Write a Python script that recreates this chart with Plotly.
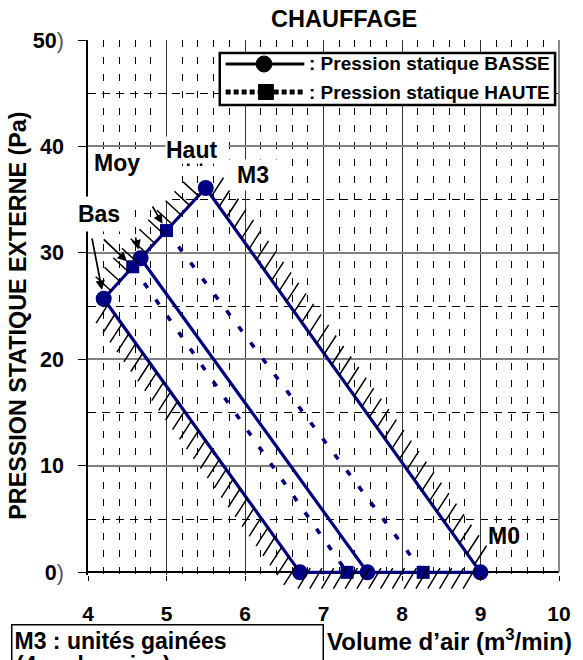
import math
import plotly.graph_objects as go

# ---------------- data ----------------
speed_labels = ["Bas", "Moy", "Haut"]
basse_top_x = [4.2, 4.67, 5.5]      # Pression statique BASSE : points hauts
basse_top_y = [25.7, 29.5, 36.1]
basse_zero_x = [6.7, 7.56, 9.0]     # débit à 0 Pa
haute_top_x = [4.57, 5.0]           # Pression statique HAUTE
haute_top_y = [28.7, 32.1]
haute_zero_x = [7.3, 8.27]

x_tick_vals = [4, 5, 6, 7, 8, 9, 10]
y_tick_vals = [0, 10, 20, 30, 40, 50]
thin = "<span style='font-weight:normal;color:#555'>)</span>"
y_tick_text = ["0" + thin, "10", "20", "30", "40", "50" + thin]

# ---------------- style ----------------
NAVY = "#000080"
FONT = "Liberation Sans, Arial, sans-serif"
W_FIG, H_FIG = 583, 660
ML, MR, MT, MB = 88, 16, 40, 85
PW = W_FIG - ML - MR
PH = H_FIG - MT - MB
X_RANGE = [4, 10]
Y_RANGE = [-0.25, 50]


def px_x(x):
    return ML + (x - X_RANGE[0]) / (X_RANGE[1] - X_RANGE[0]) * PW


def px_y(y):
    return MT + (Y_RANGE[1] - y) / (Y_RANGE[1] - Y_RANGE[0]) * PH


def pap_x(px):
    return (px - ML) / PW


def pap_y(py):
    return (MT + PH - py) / PH


def bfont(size, color="black"):
    return dict(family=FONT, size=size, color=color, weight="bold")


LW = 3.2
fig = go.Figure()

# descending BASSE lines
xs, ys = [], []
for xt, yt, xz in zip(basse_top_x, basse_top_y, basse_zero_x):
    xs += [xt, xz, None]
    ys += [yt, 0, None]
fig.add_trace(go.Scatter(x=xs, y=ys, mode="lines", line=dict(color=NAVY, width=LW),
                         showlegend=False, hoverinfo="skip"))

# descending HAUTE dotted lines
xs, ys = [], []
for xt, yt, xz in zip(haute_top_x, haute_top_y, haute_zero_x):
    xs += [xt, xz, None]
    ys += [yt, 0, None]
fig.add_trace(go.Scatter(x=xs, y=ys, mode="lines",
                         line=dict(color=NAVY, width=3.6, dash="6px,14px"),
                         showlegend=False, hoverinfo="skip"))

# bottom line along 0 Pa
fig.add_trace(go.Scatter(x=[min(basse_zero_x), max(basse_zero_x)], y=[0, 0], mode="lines",
                         line=dict(color=NAVY, width=LW), showlegend=False, hoverinfo="skip"))

# BASSE upper curve
fig.add_trace(go.Scatter(x=basse_top_x, y=basse_top_y, mode="lines+markers",
                         name="Pression statique BASSE", text=speed_labels,
                         line=dict(color=NAVY, width=LW),
                         marker=dict(symbol="circle", size=16, color=NAVY),
                         cliponaxis=False, showlegend=False))
fig.add_trace(go.Scatter(x=basse_zero_x, y=[0] * len(basse_zero_x), mode="markers",
                         marker=dict(symbol="circle", size=16, color=NAVY),
                         cliponaxis=False, showlegend=False))
# HAUTE markers
fig.add_trace(go.Scatter(x=haute_top_x, y=haute_top_y, mode="markers",
                         name="Pression statique HAUTE",
                         marker=dict(symbol="square", size=13, color=NAVY),
                         cliponaxis=False, showlegend=False))
fig.add_trace(go.Scatter(x=haute_zero_x, y=[0] * len(haute_zero_x), mode="markers",
                         marker=dict(symbol="square", size=13, color=NAVY),
                         cliponaxis=False, showlegend=False))

# ---------------- hatching of the operating envelope ----------------
def hatch(p0, p1, direction, length, spacing, back):
    x0, y0 = px_x(p0[0]), px_y(p0[1])
    x1, y1 = px_x(p1[0]), px_y(p1[1])
    seg = math.hypot(x1 - x0, y1 - y0)
    n = max(1, int(seg // spacing))
    off = (seg - (n - 1) * spacing) / 2
    dn = math.hypot(*direction)
    dx, dy = direction[0] / dn, direction[1] / dn
    parts = []
    for k in range(n):
        t = (off + k * spacing) / seg
        cx, cy = x0 + t * (x1 - x0), y0 + t * (y1 - y0)
        sx, sy = cx - dx * back, cy - dy * back
        ex, ey = cx + dx * length, cy + dy * length
        parts.append(f"M{pap_x(sx):.5f},{pap_y(sy):.5f}L{pap_x(ex):.5f},{pap_y(ey):.5f}")
    return "".join(parts)


p_bas = (basse_top_x[0], basse_top_y[0])
p_haut = (basse_top_x[-1], basse_top_y[-1])
p_z0 = (basse_zero_x[0], 0)
p_z1 = (basse_zero_x[-1], 0)
hpath = ""
hpath += hatch(p_bas, p_z0, (-0.55, 0.84), 22, 12, 1)
hpath += hatch(p_z0, p_z1, (-0.52, 0.86), 19, 12, 5)
hpath += hatch(p_z1, p_haut, (0.55, -0.84), 22, 13, 1)
hpath += hatch(p_haut, p_bas, (-0.74, -0.67), 21, 13, 1)
fig.add_shape(type="path", path=hpath, xref="paper", yref="paper",
              line=dict(color="black", width=1.5), layer="above")

# right border
fig.add_shape(type="line", xref="paper", yref="paper", x0=1, x1=1, y0=pap_y(px_y(0)), y1=1,
              line=dict(color="#888888", width=2), layer="above")

# small marks under "Haut"
for mx in (190, 203):
    fig.add_shape(type="line", xref="paper", yref="paper", x0=pap_x(mx), x1=pap_x(mx),
                  y0=pap_y(160), y1=pap_y(166), line=dict(color="black", width=2.5), layer="above")

# ---------------- legend (drawn) ----------------
fig.add_shape(type="rect", xref="paper", yref="paper", x0=pap_x(222), x1=pap_x(563),
              y0=pap_y(105), y1=pap_y(53), line=dict(color="black", width=2.5),
              fillcolor="white", layer="above")
fig.add_shape(type="line", xref="paper", yref="paper", x0=pap_x(228), x1=pap_x(308),
              y0=pap_y(64), y1=pap_y(64), line=dict(color="black", width=3), layer="above")
fig.add_shape(type="circle", xref="paper", yref="paper", x0=pap_x(259), x1=pap_x(275),
              y0=pap_y(72), y1=pap_y(56), line=dict(color="black", width=1),
              fillcolor="black", layer="above")
fig.add_shape(type="line", xref="paper", yref="paper", x0=pap_x(228), x1=pap_x(308),
              y0=pap_y(92), y1=pap_y(92), line=dict(color="black", width=5, dash="5px,3px"),
              layer="above")
fig.add_shape(type="rect", xref="paper", yref="paper", x0=pap_x(261.5), x1=pap_x(276.5),
              y0=pap_y(99.5), y1=pap_y(84.5), line=dict(color="black", width=1),
              fillcolor="black", layer="above")
for txt, py in ((": Pression statique BASSE", 64), (": Pression statique HAUTE", 92)):
    fig.add_annotation(xref="paper", yref="paper", x=pap_x(311), y=pap_y(py),
                       xanchor="left", yanchor="middle", text=txt, showarrow=False,
                       font=bfont(19))

# ---------------- arrows ----------------
arrows = [
    (basse_top_x[0], basse_top_y[0], 92, 237, 9),
    (haute_top_x[0], haute_top_y[0], 103, 238, 8),
    (basse_top_x[1], basse_top_y[1], 136, 236, 9),
    (haute_top_x[1], haute_top_y[1], 153, 205, 8),
]
for x, y, tx, ty, so in arrows:
    fig.add_annotation(x=x, y=y, xref="x", yref="y", text="", showarrow=True,
                       ax=tx - px_x(x), ay=ty - px_y(y), axref="pixel", ayref="pixel",
                       arrowhead=2, arrowsize=1.1, arrowwidth=1.7, arrowcolor="black",
                       standoff=so)

# ---------------- labels with white boxes ----------------
def label(text, cx, cy, w, h, align="center", valign="middle", bg="white"):
    fig.add_annotation(xref="paper", yref="paper", x=pap_x(cx), y=pap_y(cy),
                       xanchor="center", yanchor="middle", text=text, showarrow=False,
                       width=w, height=h, align=align, valign=valign, bgcolor=bg,
                       borderpad=0, font=bfont(23))


label("Moy", 133, 175, 76, 50, align="left", valign="top")
label("Bas", 99, 214, 62, 34)
label("Haut", 199, 150, 62, 26, align="left")
label("M3", 256, 175, 50, 30)
label("M0", 511, 536, 40, 24, bg="rgba(0,0,0,0)")

# title / axis titles
fig.add_annotation(xref="paper", yref="paper", x=pap_x(348.5), y=pap_y(19.5),
                   xanchor="center", yanchor="middle", text="CHAUFFAGE", showarrow=False,
                   font=bfont(23.5))
fig.add_annotation(xref="paper", yref="paper", x=pap_x(16.5), y=pap_y(316),
                   xanchor="center", yanchor="middle", textangle=-90,
                   text="PRESSION STATIQUE EXTERNE (Pa)", showarrow=False, font=bfont(23.3))
fig.add_annotation(xref="paper", yref="paper", x=pap_x(455.5), y=pap_y(640),
                   xanchor="center", yanchor="middle",
                   text="Volume d’air (m<sup>3</sup>/min)", showarrow=False, font=bfont(24))
# note box (its lower part runs past the bottom edge, as in the original)
fig.add_annotation(xref="paper", yref="paper", x=pap_x(10), y=pap_y(624),
                   xanchor="left", yanchor="top", text="M3 : unités gainées",
                   align="left", valign="top", showarrow=False, bordercolor="black",
                   borderwidth=1.5, bgcolor="white", borderpad=2, width=306, height=60,
                   font=bfont(23))
fig.add_annotation(xref="paper", yref="paper", x=pap_x(13), y=pap_y(650),
                   xanchor="left", yanchor="top", text="(4 m de gaine)",
                   align="left", showarrow=False, font=bfont(23))

fig.update_layout(
    width=W_FIG, height=H_FIG,
    margin=dict(l=ML, r=MR, t=MT, b=MB, pad=0),
    paper_bgcolor="white", plot_bgcolor="white",
    showlegend=False,
    xaxis=dict(range=X_RANGE, tickmode="linear", tick0=4, dtick=1,
               ticks="outside", ticklen=5, tickwidth=1.2, tickcolor="black",
               showline=False, showgrid=True, gridcolor="#333333", gridwidth=1,
               zeroline=False, tickfont=bfont(21), ticklabelstandoff=15,
               minor=dict(tickmode="linear", tick0=4, dtick=0.2, showgrid=True,
                          gridcolor="black", gridwidth=1, griddash="7px,10px"),
               fixedrange=True),
    yaxis=dict(range=Y_RANGE, tickmode="array", tickvals=y_tick_vals, ticktext=y_tick_text,
               ticks="outside", ticklen=8, tickwidth=1.2, tickcolor="black",
               showline=True, linecolor="black", linewidth=1.5,
               showgrid=True, gridcolor="#808080", gridwidth=1.5,
               zeroline=True, zerolinecolor="black", zerolinewidth=1.5,
               tickfont=bfont(21.5), ticklabelstandoff=10,
               minor=dict(tickmode="linear", tick0=0, dtick=5, showgrid=True,
                          gridcolor="black", gridwidth=1, griddash="8px,6px"),
               fixedrange=True),
)

fig.write_html("out.html", config={"displayModeBar": False},
               post_script="document.body.style.margin='0';"
                           "document.body.style.overflow='hidden';")
